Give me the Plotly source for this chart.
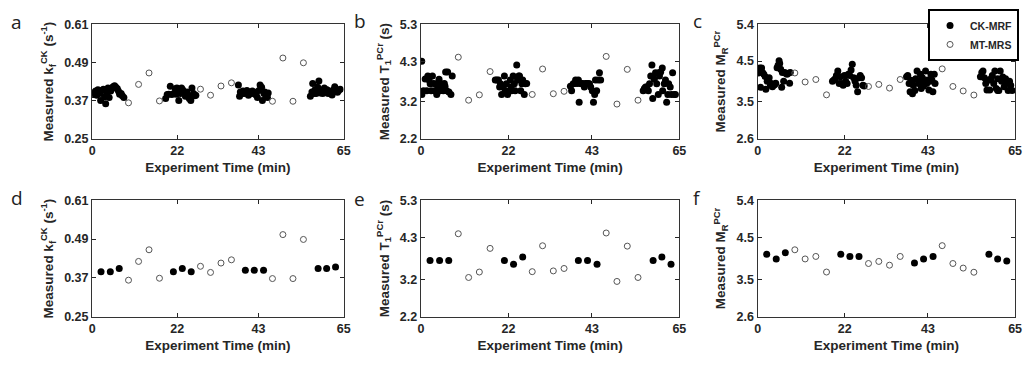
import plotly.graph_objects as go

# ---------------- data ----------------
# CK-MRF dense acquisitions (top row), four blocks of repeated measurements
ck_time_kf = [0.3, 0.5, 0.9, 1.2, 1.5, 1.9, 2.2, 2.5, 2.9, 3.2, 3.5, 3.8, 4.1, 4.4, 4.8, 5.1, 5.4, 5.8, 6.1, 6.5, 6.8, 7.1, 7.5, 7.8, 8.2,
              19.0, 19.4, 19.8, 20.2, 20.6, 21.1, 21.5, 21.9, 22.1, 22.4, 22.8, 23.1, 23.4, 23.8, 24.1, 24.5, 24.8, 25.1, 25.5, 25.8, 26.2, 26.5, 26.8, 21.7, 24.0,
              37.8, 38.1, 38.3, 38.7, 39.0, 39.3, 39.7, 40.0, 40.4, 40.7, 41.0, 41.4, 41.7, 42.1, 42.4, 42.7, 43.1, 43.4, 43.8, 44.0, 44.4, 44.6, 44.9, 45.3, 45.5,
              56.4, 56.8, 57.0, 57.3, 57.6, 57.9, 58.3, 58.6, 59.0, 59.3, 59.6, 60.0, 60.3, 60.7, 61.0, 61.3, 61.7, 62.0, 62.4, 62.7, 63.0, 63.4, 63.7, 64.1, 58.5]
ck_kf = [0.389, 0.395, 0.400, 0.387, 0.404, 0.392, 0.370, 0.402, 0.406, 0.382, 0.360, 0.394, 0.410, 0.380, 0.400, 0.407, 0.414, 0.417, 0.413, 0.408, 0.400, 0.390, 0.392, 0.385, 0.380,
         0.377, 0.389, 0.390, 0.415, 0.389, 0.392, 0.407, 0.410, 0.400, 0.370, 0.392, 0.410, 0.404, 0.394, 0.384, 0.397, 0.387, 0.377, 0.370, 0.410, 0.392, 0.385, 0.387, 0.390, 0.390,
         0.419, 0.384, 0.397, 0.392, 0.400, 0.392, 0.396, 0.402, 0.387, 0.396, 0.392, 0.400, 0.392, 0.396, 0.387, 0.380, 0.402, 0.419, 0.412, 0.370, 0.392, 0.397, 0.387, 0.380, 0.394,
         0.384, 0.397, 0.424, 0.392, 0.404, 0.392, 0.412, 0.432, 0.394, 0.402, 0.392, 0.410, 0.396, 0.404, 0.392, 0.400, 0.396, 0.388, 0.404, 0.414, 0.402, 0.396, 0.402, 0.406, 0.396]

ck_time_t1 = [0.2, 0.25, 0.66, 1.08, 1.49, 1.74, 2.07, 2.32, 2.57, 2.9, 3.15, 3.4, 3.73, 3.98, 4.23, 4.56, 4.81, 5.06, 5.39, 5.64, 5.89, 6.06, 6.22, 6.47, 6.72, 7.05, 7.55, 7.88,
              18.7, 19.1, 19.5, 19.8, 20.0, 20.3, 20.7, 21.0, 21.2, 21.5, 21.8, 22.2, 22.5, 22.7, 22.8, 23.2, 23.5, 23.7, 24.1, 24.3, 24.6, 24.8, 25.1, 25.4, 25.6, 26.0, 26.3, 26.6,
              37.6, 37.9, 38.3, 38.6, 38.9, 39.3, 39.6, 39.8, 40.1, 40.4, 40.7, 41.1, 41.4, 41.7, 42.1, 42.4, 42.7, 43.1, 43.4, 43.7, 43.9, 44.2, 44.6, 44.9, 45.2,
              55.9, 56.2, 56.5, 56.8, 57.2, 57.5, 57.8, 58.1, 58.3, 58.7, 59.0, 59.3, 59.7, 59.8, 60.0, 60.3, 60.7, 60.8, 61.2, 61.5, 61.8, 62.1, 62.3, 62.7, 63.0, 63.3, 63.7, 64.0]
ck_t1 = [4.30, 3.40, 3.50, 3.82, 3.50, 3.90, 3.79, 3.69, 3.50, 3.90, 3.70, 3.50, 3.69, 3.40, 3.62, 3.81, 3.50, 3.69, 3.60, 3.50, 3.70, 3.62, 4.01, 3.50, 4.01, 3.47, 3.40, 3.90,
         3.79, 3.79, 3.79, 3.60, 3.69, 3.40, 3.60, 3.90, 3.50, 3.69, 3.40, 3.50, 3.79, 3.60, 3.50, 3.90, 3.69, 3.50, 4.20, 3.79, 3.90, 3.90, 3.50, 3.69, 3.79, 3.40, 3.69, 3.70,
         3.62, 3.50, 3.69, 3.70, 3.79, 3.70, 3.79, 3.19, 3.70, 3.69, 3.70, 3.60, 3.70, 3.70, 3.70, 3.69, 3.60, 3.50, 3.19, 3.40, 3.79, 3.50, 3.79, 3.99, 3.79,
         3.50, 3.56, 3.60, 3.60, 3.50, 3.69, 3.90, 4.20, 3.29, 3.81, 3.99, 3.69, 3.40, 3.99, 3.90, 4.01, 4.12, 3.50, 3.69, 3.79, 3.19, 3.40, 3.69, 3.60, 3.40, 3.99, 3.40, 3.40]

ck_time_mr = [0.17, 0.58, 0.75, 1.0, 1.25, 1.58, 1.92, 2.08, 2.42, 2.67, 2.92, 3.25, 3.5, 3.75, 4.08, 4.33, 4.58, 4.92, 5.17, 5.42, 5.58, 5.83, 6.08, 6.25, 6.58, 6.83, 7.08, 7.42, 7.75, 8.08, 8.25,
              18.9, 19.25, 19.6, 19.9, 20.25, 20.6, 20.9, 21.25, 21.6, 21.9, 22.25, 22.6, 22.9, 23.25, 23.6, 23.9, 24.25, 24.6, 24.9, 25.25, 25.6, 25.9, 26.25, 26.6, 26.9,
              37.6, 37.9, 38.25, 38.5, 38.75, 39.1, 39.3, 39.7, 39.9, 40.25, 40.6, 40.8, 41.1, 41.3, 41.6, 41.9, 42.2, 42.4, 42.7, 42.9, 43.25, 43.5, 43.75, 44.0, 44.25, 44.6, 44.8,
              56.25, 56.6, 56.9, 57.25, 57.6, 57.9, 58.25, 58.6, 58.9, 59.25, 59.6, 59.9, 60.25, 60.6, 60.6, 60.9, 61.25, 61.6, 61.9, 62.25, 62.6, 62.9, 63.25, 63.6, 63.9, 64.25]
ck_mr = [4.21, 4.33, 3.86, 4.33, 4.22, 4.18, 4.12, 3.81, 4.01, 4.03, 4.09, 3.91, 3.95, 3.87, 3.91, 3.93, 3.96, 4.34, 4.40, 4.51, 4.44, 4.30, 3.86, 4.22, 4.01, 4.22, 4.20, 4.18, 4.20, 3.96, 4.22,
         4.01, 4.04, 4.07, 4.15, 4.26, 3.95, 4.12, 3.95, 3.91, 4.15, 4.01, 3.95, 4.18, 4.15, 4.28, 4.42, 4.09, 4.01, 3.91, 3.75, 4.09, 4.15, 4.09, 3.91, 3.89,
         4.12, 4.15, 3.95, 3.75, 4.03, 3.70, 3.91, 3.78, 4.07, 4.26, 3.95, 4.01, 4.18, 3.83, 4.09, 3.89, 4.01, 4.26, 3.95, 4.04, 3.79, 4.01, 4.18, 4.04, 3.75, 4.18, 3.95,
         4.12, 4.22, 4.26, 4.09, 3.95, 3.79, 4.03, 3.79, 4.07, 4.15, 3.95, 4.26, 3.83, 4.07, 3.78, 3.78, 4.26, 4.01, 4.11, 3.87, 4.07, 3.95, 3.78, 4.01, 3.91, 3.78]

# CK-MRF block-averaged values (bottom row)
ck_avg_time = [2.3, 4.7, 7.0, 21.0, 23.3, 25.6, 39.6, 41.9, 44.3, 58.4, 60.6, 62.9]
ck_avg_kf = [0.389, 0.389, 0.399, 0.389, 0.399, 0.389, 0.394, 0.394, 0.394, 0.399, 0.399, 0.404]
ck_avg_t1 = [3.70, 3.70, 3.70, 3.70, 3.60, 3.79, 3.70, 3.70, 3.60, 3.70, 3.79, 3.60]
ck_avg_mr = [4.10, 3.99, 4.14, 4.10, 4.05, 4.05, 3.89, 3.99, 4.05, 4.10, 3.99, 3.94]

# MT-MRS reference measurements (shown in both rows)
mt_time = [9.4, 12.0, 14.7, 17.4, 28.0, 30.6, 33.3, 36.0, 46.6, 49.3, 51.9, 54.6]
mt_kf = [0.363, 0.421, 0.457, 0.369, 0.406, 0.387, 0.416, 0.426, 0.368, 0.504, 0.368, 0.489]
mt_t1 = [4.41, 3.245, 3.39, 4.02, 3.40, 4.09, 3.42, 3.485, 4.43, 3.14, 4.08, 3.245]
mt_mr = [4.21, 3.99, 4.05, 3.675, 3.88, 3.93, 3.84, 4.05, 4.31, 3.88, 3.77, 3.67]

# axis ticks
time_ticks = [0, 22, 43, 65]
kf_ticks = [0.25, 0.37, 0.49, 0.61]
t1_ticks = [2.2, 3.2, 4.3, 5.3]
mr_ticks = [2.6, 3.5, 4.5, 5.4]

y_titles = ["Measured k<sub>f</sub><sup>CK</sup> (s<sup>-1</sup>)",
            "Measured T<sub>1</sub><sup>PCr</sup> (s)",
            "Measured M<sub>R</sub><sup>PCr</sup>"]
panel_letters = ["a", "b", "c", "d", "e", "f"]

# ---------------- figure ----------------
W, H = 1030, 367
col_px = [(90, 344), (422, 683), (762, 1022)]
row_px = [(18, 137), (201, 322)]
INK = "#262626"
FONT = "Liberation Sans"

panels = [
    (ck_time_kf, ck_kf, mt_time, mt_kf, kf_ticks, 0),
    (ck_time_t1, ck_t1, mt_time, mt_t1, t1_ticks, 1),
    (ck_time_mr, ck_mr, mt_time, mt_mr, mr_ticks, 2),
    (ck_avg_time, ck_avg_kf, mt_time, mt_kf, kf_ticks, 0),
    (ck_avg_time, ck_avg_t1, mt_time, mt_t1, t1_ticks, 1),
    (ck_avg_time, ck_avg_mr, mt_time, mt_mr, mr_ticks, 2),
]

fig = go.Figure()
layout = {}
for i, (ckx, cky, mtx, mty, yt, col) in enumerate(panels):
    n = i + 1
    sfx = "" if n == 1 else str(n)
    row = i // 3
    x0, x1 = col_px[col]
    y0, y1 = row_px[row]
    show_leg = (i == 0)
    fig.add_trace(go.Scatter(
        x=ckx, y=cky, mode="markers", name="CK-MRF", showlegend=show_leg,
        marker=dict(symbol="circle", size=7, color="black", line=dict(width=0)),
        xaxis="x" + sfx, yaxis="y" + sfx))
    fig.add_trace(go.Scatter(
        x=mtx, y=mty, mode="markers", name="MT-MRS", showlegend=show_leg,
        marker=dict(symbol="circle-open", size=6, color="#555555", line=dict(width=1)),
        xaxis="x" + sfx, yaxis="y" + sfx))
    common = dict(showline=True, linecolor="#333333", linewidth=1.3, mirror="ticks",
                  ticks="inside", ticklen=4, tickwidth=1, tickcolor=INK,
                  showgrid=False, zeroline=False,
                  tickfont=dict(family=FONT, size=12.5, color=INK, weight="bold"))
    layout["xaxis" + sfx] = dict(
        common, domain=[x0 / W, x1 / W], anchor="y" + sfx, range=[0, 65],
        tickvals=time_ticks, ticktext=[str(t) for t in time_ticks],
        title=dict(text="Experiment Time (min)", standoff=5,
                   font=dict(family=FONT, size=13.5, color=INK, weight="bold")))
    layout["yaxis" + sfx] = dict(
        common, domain=[1 - y1 / H, 1 - y0 / H], anchor="x" + sfx,
        range=[yt[0], yt[-1]], tickvals=yt,
        ticktext=[f"{v:.2f}" if col == 0 else f"{v:.1f}" for v in yt],
        title=dict(text=y_titles[col], standoff=7,
                   font=dict(family=FONT, size=13.5, color=INK, weight="bold")))

annotations = []
letter_pos = [(14, 16), (360, 15), (701, 15), (14, 199), (360, 200), (701, 199)]
for letter, (lx, ly) in zip(panel_letters, letter_pos):
    annotations.append(dict(text=letter, x=lx / W, y=1 - ly / H, xref="paper", yref="paper",
                            showarrow=False, xanchor="center", yanchor="middle",
                            font=dict(family="Open Sans", size=19, color="#222222")))

fig.update_layout(
    width=W, height=H, margin=dict(l=0, r=0, t=0, b=0),
    paper_bgcolor="white", plot_bgcolor="white",
    showlegend=True,
    legend=dict(x=1026 / W, y=1 - 2 / H, xanchor="right", yanchor="top",
                bordercolor="black", borderwidth=2, bgcolor="white",
                font=dict(family=FONT, size=10.5, color=INK, weight="bold"),
                tracegroupgap=0, itemwidth=30),
    annotations=annotations,
    **layout)

fig.write_html("out.html")
